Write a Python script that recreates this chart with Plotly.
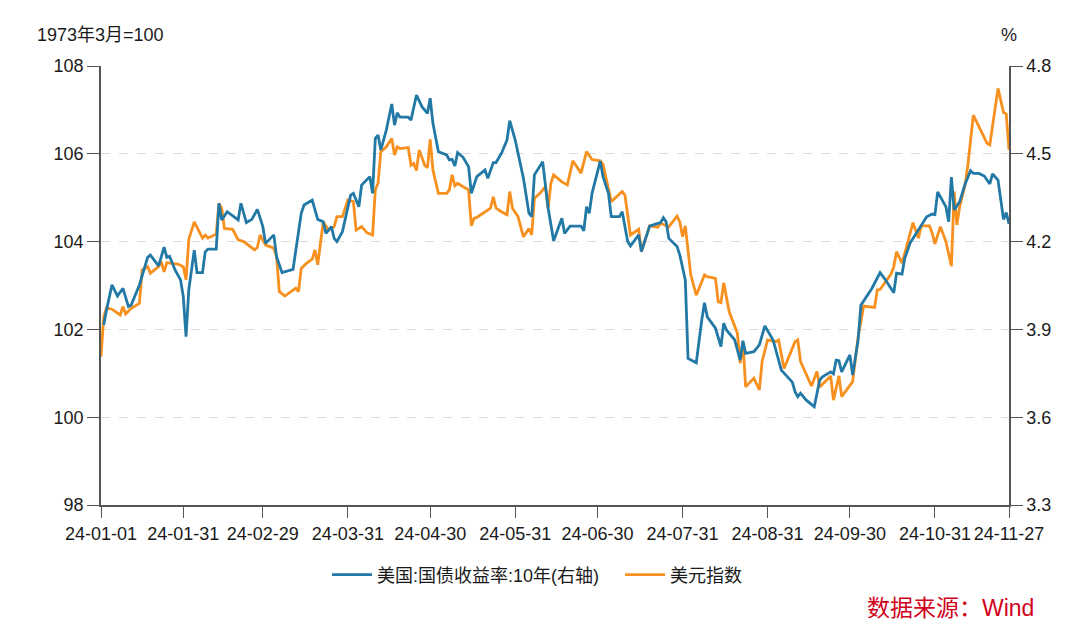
import pandas as pd
import plotly.graph_objects as go

# ---- data (day offsets from 2024-01-01) ----
dxy_days = [0, 1, 2, 4, 7, 8, 9, 11, 14, 15, 17, 18, 21, 22, 23, 24, 28, 30, 31, 32, 34, 37, 38, 39, 42, 43, 44, 45,
            48, 50, 52, 56, 57, 58, 60, 63, 64, 65, 67, 71, 72, 73, 75, 77, 78, 79, 81, 83, 85, 86, 88, 90, 92, 93,
            95, 97, 99, 100, 101, 102, 104, 106, 107, 108, 109, 112, 113, 114, 115, 116, 118, 119, 120, 121, 123,
            126, 127, 128, 129, 130, 132, 134, 135, 136, 137, 140, 142, 143, 144, 146, 148, 149, 150, 152, 154,
            156, 157, 158, 160, 162, 163, 164, 165, 168, 170, 172, 175, 177, 179, 182, 183, 186, 190, 191, 193,
            196, 197, 200, 203, 204, 207, 210, 211, 212, 213, 215, 217, 220, 221, 224, 225, 226, 227, 229, 232,
            233, 234, 235, 238, 240, 241, 243, 246, 247, 249, 253, 254, 255, 259, 261, 262, 266, 267, 269, 270,
            274, 276, 278, 282, 283, 284, 288, 289, 290, 292, 294, 295, 296, 298, 299, 302, 303, 304, 306, 308,
            310, 311, 312, 313, 315, 316, 318, 323, 324, 327, 329, 330, 331]
dxy_vals = [101.38, 102.29, 102.49, 102.46, 102.33, 102.52, 102.35, 102.48, 102.59, 103.35, 103.43, 103.28, 103.43,
            103.54, 103.31, 103.52, 103.49, 103.43, 103.13, 104.05, 104.45, 104.08, 104.15, 104.08, 104.17, 104.87,
            104.76, 104.30, 104.28, 104.04, 104.00, 103.81, 103.87, 104.15, 103.92, 103.85, 103.66, 102.86, 102.76,
            102.94, 102.86, 103.39, 103.51, 103.60, 103.81, 103.47, 104.45, 104.26, 104.34, 104.57, 104.57, 104.95,
            104.91, 104.26, 104.34, 104.20, 104.15, 105.18, 105.33, 106.05, 106.16, 106.35, 105.97, 106.16, 106.12,
            106.14, 105.74, 105.78, 105.62, 106.09, 105.74, 105.68, 106.33, 105.63, 105.10, 105.10, 105.18, 105.52,
            105.27, 105.33, 105.25, 105.18, 104.36, 104.53, 104.55, 104.68, 104.76, 105.02, 104.76, 104.68, 104.61,
            105.14, 104.76, 104.57, 104.11, 104.30, 104.15, 104.99, 105.10, 105.25, 104.76, 105.33, 105.52, 105.36,
            105.29, 105.84, 105.56, 106.05, 105.87, 105.84, 105.76, 104.91, 105.14, 105.06, 104.15, 104.28, 103.77,
            104.36, 104.33, 104.42, 104.34, 104.58, 104.45, 104.11, 104.36, 103.24, 102.78, 103.24, 103.20, 103.16,
            102.63, 102.61, 103.06, 102.40, 101.91, 101.23, 101.72, 100.69, 100.89, 100.62, 101.27, 101.76, 101.72,
            101.76, 101.11, 101.72, 101.76, 101.27, 100.71, 101.04, 100.69, 100.94, 100.39, 100.94, 100.47, 100.81,
            101.83, 102.53, 102.50, 102.90, 102.91, 103.26, 103.43, 103.77, 103.51, 103.96, 104.19, 104.43, 104.08,
            104.36, 104.36, 104.19, 103.95, 104.34, 104.00, 103.44, 105.14, 104.38, 104.79, 105.29, 105.74, 106.88,
            106.24, 106.20, 107.49, 106.94, 106.91, 106.09]

ust_days = [1, 2, 4, 6, 8, 10, 11, 14, 17, 18, 21, 23, 24, 25, 27, 29, 30, 31, 32, 34, 35, 37, 38, 39, 42, 43, 44,
            46, 50, 51, 53, 55, 57, 59, 60, 63, 64, 66, 70, 71, 73, 74, 77, 79, 81, 82, 84, 85, 86, 88, 91, 92, 94,
            95, 98, 99, 100, 101, 102, 104, 106, 107, 108, 109, 112, 113, 115, 117, 119, 120, 121, 123, 126, 127,
            128, 129, 130, 132, 134, 135, 137, 140, 141, 143, 144, 146, 148, 149, 151, 154, 156, 157, 158, 161, 163,
            165, 168, 169, 171, 175, 176, 177, 178, 179, 182, 183, 185, 186, 189, 190, 192, 193, 196, 197, 200, 203,
            204, 205, 206, 207, 210, 211, 213, 214, 217, 219, 220, 221, 224, 226, 227, 228, 231, 233, 234, 235, 238,
            240, 242, 245, 248, 252, 253, 254, 255, 257, 260, 262, 263, 266, 267, 268, 269, 270, 273, 274, 276, 277,
            281, 284, 286, 289, 290, 292, 293, 295, 298, 301, 303, 304, 305, 308, 309, 310, 311, 313, 315, 317, 318,
            320, 322, 324, 325, 327, 329, 330, 331]
ust_vals = [3.915, 3.966, 4.052, 4.014, 4.040, 3.978, 3.983, 4.052, 4.146, 4.154, 4.117, 4.181, 4.146, 4.150, 4.103,
            4.069, 4.012, 3.875, 4.035, 4.171, 4.094, 4.094, 4.165, 4.174, 4.174, 4.331, 4.274, 4.302, 4.274, 4.331,
            4.265, 4.276, 4.310, 4.251, 4.194, 4.223, 4.148, 4.094, 4.105, 4.165, 4.297, 4.325, 4.342, 4.276, 4.268,
            4.228, 4.251, 4.211, 4.200, 4.234, 4.359, 4.365, 4.319, 4.393, 4.422, 4.365, 4.553, 4.564, 4.513, 4.581,
            4.670, 4.598, 4.640, 4.625, 4.625, 4.615, 4.701, 4.661, 4.638, 4.690, 4.604, 4.507, 4.496, 4.479, 4.481,
            4.458, 4.504, 4.488, 4.456, 4.365, 4.422, 4.445, 4.416, 4.470, 4.470, 4.502, 4.547, 4.613, 4.547, 4.416,
            4.297, 4.285, 4.428, 4.473, 4.314, 4.203, 4.280, 4.228, 4.253, 4.253, 4.237, 4.319, 4.297, 4.365, 4.475,
            4.422, 4.365, 4.285, 4.285, 4.302, 4.200, 4.185, 4.223, 4.166, 4.253, 4.262, 4.265, 4.282, 4.268, 4.211,
            4.183, 4.154, 4.069, 3.801, 3.786, 3.932, 3.991, 3.943, 3.904, 3.841, 3.921, 3.898, 3.864, 3.795, 3.861,
            3.818, 3.824, 3.847, 3.912, 3.864, 3.761, 3.720, 3.687, 3.670, 3.682, 3.659, 3.636, 3.727, 3.738, 3.755,
            3.748, 3.795, 3.793, 3.755, 3.813, 3.744, 3.864, 3.983, 4.040, 4.094, 4.069, 4.025, 4.092, 4.089, 4.143,
            4.196, 4.240, 4.285, 4.294, 4.292, 4.370, 4.319, 4.268, 4.420, 4.308, 4.336, 4.397, 4.442, 4.433, 4.433,
            4.424, 4.397, 4.431, 4.410, 4.276, 4.299, 4.260]

x_ticks = ["2024-01-01", "2024-01-31", "2024-02-29", "2024-03-31", "2024-04-30", "2024-05-31",
           "2024-06-30", "2024-07-31", "2024-08-31", "2024-09-30", "2024-10-31", "2024-11-27"]
x_ticktext = ["24-01-01", "24-01-31", "24-02-29", "24-03-31", "24-04-30", "24-05-31",
              "24-06-30", "24-07-31", "24-08-31", "24-09-30", "24-10-31", "24-11-27"]
left_ticks = [98, 100, 102, 104, 106, 108]
right_ticks = [3.3, 3.6, 3.9, 4.2, 4.5, 4.8]

series_ust_name = "美国:国债收益率:10年(右轴)"
series_dxy_name = "美元指数"

start = pd.Timestamp("2024-01-01")
dxy_dates = [start + pd.Timedelta(days=d) for d in dxy_days]
ust_dates = [start + pd.Timedelta(days=d) for d in ust_days]

BLUE = "#2279a6"
ORANGE = "#f7901e"
AXIS = "#555555"
TXT = "#1a1a1a"
FONT = "Liberation Sans, Noto Sans CJK SC, sans-serif"

# page body has an 8px margin; figure-pixel margins are chosen so the plot
# area lands at screen x 101..1009, y 66..505
W, H = 1080, 642
ML, MR, MT, MB = 93, 79, 58, 145
PW = W - ML - MR
PH = H - MT - MB
OFF = 8


def px(xs):
    return (xs - OFF - ML) / PW


def py(ys):
    return (H - MB - (ys - OFF)) / PH


fig = go.Figure()
fig.add_trace(go.Scatter(x=ust_dates, y=ust_vals, name=series_ust_name, mode="lines",
                         line=dict(color=BLUE, width=2.8), yaxis="y2"))
fig.add_trace(go.Scatter(x=dxy_dates, y=dxy_vals, name=series_dxy_name, mode="lines",
                         line=dict(color=ORANGE, width=2.8), yaxis="y"))

fig.update_layout(
    width=W, height=H,
    margin=dict(l=ML, r=MR, t=MT, b=MB, autoexpand=False),
    paper_bgcolor="white", plot_bgcolor="white",
    font=dict(family=FONT, size=18, color=TXT),
    showlegend=True,
    legend=dict(orientation="h", x=px(327), xanchor="left", y=py(575), yanchor="middle",
                font=dict(size=18, color=TXT), itemwidth=40, tracegroupgap=0,
                entrywidth=238, entrywidthmode="pixels"),
    xaxis=dict(type="date", range=["2024-01-01", "2024-11-27"],
               tickvals=x_ticks, ticktext=x_ticktext, tickangle=0,
               showline=True, linecolor=AXIS, linewidth=2,
               ticks="outside", ticklen=11, tickcolor=AXIS, tickwidth=1,
               showgrid=False, zeroline=False, tickfont=dict(size=18, color=TXT)),
    yaxis=dict(range=[98, 108], tickvals=left_ticks, showline=True, linecolor=AXIS, linewidth=1.5,
               ticks="outside", ticklen=12, tickcolor=AXIS,
               showgrid=True, gridcolor="#dcdcdc", griddash="dash", gridwidth=1,
               zeroline=False, tickfont=dict(size=18, color=TXT)),
    yaxis2=dict(range=[3.3, 4.8], tickvals=right_ticks, tickformat=".1f", overlaying="y", side="right",
                anchor="x", showline=True, linecolor=AXIS, linewidth=1.5,
                ticks="outside", ticklen=12, tickcolor=AXIS,
                showgrid=False, zeroline=False, tickfont=dict(size=18, color=TXT)),
    annotations=[
        dict(text="1973年3月=100", x=px(35), y=py(35), xref="paper", yref="paper", xanchor="left",
             yanchor="middle", showarrow=False, font=dict(size=18, color=TXT)),
        dict(text="%", x=px(1009), y=py(35), xref="paper", yref="paper", xanchor="center",
             yanchor="middle", showarrow=False, font=dict(size=18, color=TXT)),
        dict(text="数据来源：Wind", x=px(1036), y=py(608), xref="paper", yref="paper", xanchor="right",
             yanchor="middle", showarrow=False, font=dict(size=23, color="#d0021b")),
    ],
)

fig.write_html("out.html")
